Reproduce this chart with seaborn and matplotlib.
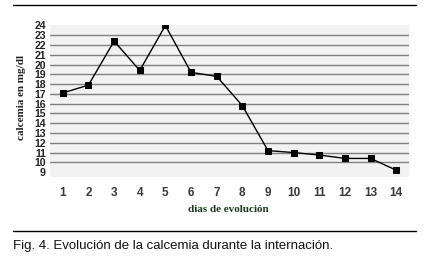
import matplotlib
matplotlib.use("Agg")
import matplotlib.pyplot as plt
import seaborn as sns
import pandas as pd
from matplotlib.lines import Line2D

dias = [1, 2, 3, 4, 5, 6, 7, 8, 9, 10, 11, 12, 13, 14]
calcemia = [17.1, 17.9, 22.4, 19.4, 24.0, 19.2, 18.8, 15.8, 11.2, 11.0, 10.75, 10.4, 10.4, 9.2]
yticks = list(range(9, 25))
caption = "Fig. 4. Evolución de la calcemia durante la internación."

df = pd.DataFrame({"dia": dias, "calcemia": calcemia})

sns.set_style("white")
plt.rcParams['font.family'] = ['Liberation Sans', 'DejaVu Sans']

fig = plt.figure(figsize=(4.37, 2.59), dpi=100)
ax = fig.add_axes([50/437, 1-177/259, (409-50)/437, (177-25)/259])
ax.set_facecolor("#f2f2f2")
for y in range(10, 24):
    ax.axhline(y, color="#808080", lw=1.0, zorder=1)

sns.lineplot(data=df, x="dia", y="calcemia", ax=ax, color="black", lw=1.0,
             marker="s", markersize=4.5, markeredgecolor="black", zorder=3)

ax.set_xlim(0.5, 14.5)
ax.set_ylim(8.5, 24.05)
ax.set_xticks(dias)
ax.set_yticks(yticks)
ax.set_xticklabels([str(d) for d in dias], fontsize=8.5, fontweight="bold", color="#3a3a3a")
ax.set_yticklabels([str(t) for t in yticks], fontsize=7.6, fontweight="bold", color="#222222")
ax.tick_params(length=0)
ax.tick_params(axis="x", pad=7)
ax.tick_params(axis="y", pad=3)
for s in ax.spines.values():
    s.set_visible(False)
ax.set_xlabel("")
ax.set_ylabel("")

fig.text(22/437, 1-97/259, "calcemia en mg/dl", rotation=90, ha="center", va="center",
         fontsize=8, fontweight="bold", family=["Liberation Serif", "DejaVu Serif"], color="#222222")
fig.text(228/437, 1-210/259, "dias de evolución", ha="center", va="center",
         fontsize=8, fontweight="bold", family=["Liberation Serif", "DejaVu Serif"], color="#1a3a1a")

fig.add_artist(Line2D([13/437, 416/437], [1-4.5/259, 1-4.5/259], color="black", lw=1.0))
fig.add_artist(Line2D([13/437, 416/437], [1-231/259, 1-231/259], color="black", lw=1.0))
fig.text(13/437, 1-246.5/259, caption, ha="left", va="center", fontsize=9.5, color="#111111")

fig.savefig("out.png", dpi=100)
